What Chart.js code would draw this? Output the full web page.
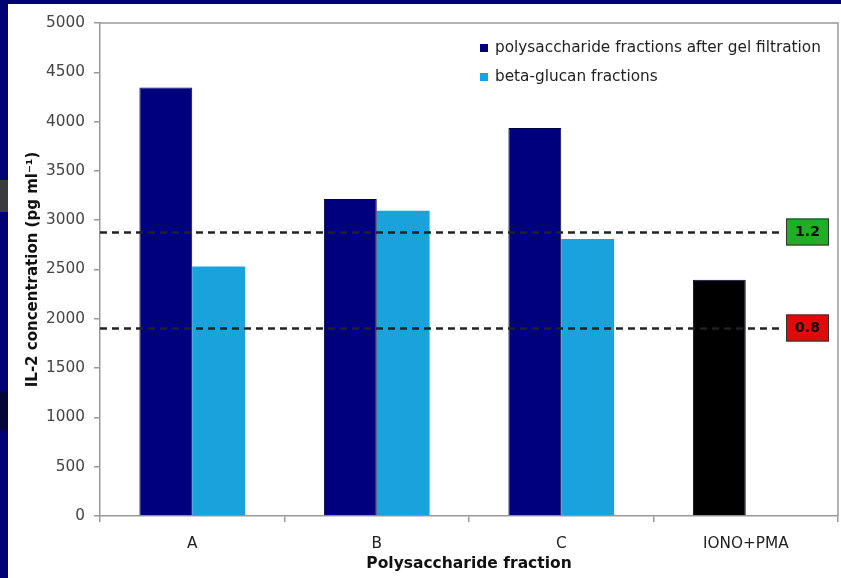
<!DOCTYPE html>
<html>
<head>
<meta charset="utf-8">
<script src="https://cdn.jsdelivr.net/npm/chart.js@4.4.1/dist/chart.umd.min.js"></script>
<style>
    html, body { margin: 0; padding: 0; }
    body { width: 841px; height: 578px; background: #020272; position: relative; overflow: hidden; }
    #panel { position: absolute; left: 8px; top: 4px; width: 833px; height: 574px; background: #fff; }
    .patch1 { position: absolute; left: 0; top: 180px; width: 8px; height: 32px; background: #3a3a40; }
    .patch2 { position: absolute; left: 0; top: 392px; width: 8px; height: 38px; background: #05053a; }
</style>
</head>
<body>
<div class="patch1"></div>
<div class="patch2"></div>
<div id="panel"><canvas id="grafico" width="833" height="574"></canvas></div>
<script>
const categorias = ['A', 'B', 'C', 'IONO+PMA'];
const gelFiltration = [4345, 3215, 3935, 2395];
const betaGlucan = [2530, 3095, 2810, null];
const gelColors = ['#00007e', '#00007e', '#00007e', '#000000'];
const yTicks = [0, 500, 1000, 1500, 2000, 2500, 3000, 3500, 4000, 4500, 5000];
const umbrales = [2880, 1910];
const umbralEtiquetas = ['1.2', '0.8'];
const umbralColores = ['#1fae24', '#e00a0a'];

const ctx = document.getElementById('grafico').getContext('2d');
const fuente = '"DejaVu Sans", Verdana, sans-serif';

// leyenda dentro del area del grafico
const leyendaPlugin = {
    id: 'leyendaInterna',
    afterDraw(chart) {
        const c = chart.ctx;
        const filas = [
            { texto: chart.data.datasets[0].label, color: '#00007e' },
            { texto: chart.data.datasets[1].label, color: '#19a2dc' }
        ];
        c.save();
        c.font = '15.3px ' + fuente;
        c.textBaseline = 'middle';
        filas.forEach((f, i) => {
            const y = 44 + i * 29;
            c.fillStyle = f.color;
            c.fillRect(472, y - 4, 8, 8);
            c.fillStyle = '#222';
            c.fillText(f.texto, 487, y);
        });
        c.restore();
    }
};

// lineas punteadas y cajas de referencia
const umbralPlugin = {
    id: 'umbrales',
    afterDatasetsDraw(chart) {
        const c = chart.ctx;
        const area = chart.chartArea;
        const y = chart.scales.y;
        c.save();
        umbrales.forEach((v, i) => {
            const py = Math.round(y.getPixelForValue(v)) + 0.5;
            c.beginPath();
            c.setLineDash([7, 5]);
            c.lineWidth = 2.5;
            c.strokeStyle = '#222';
            c.moveTo(area.left, py);
            c.lineTo(area.right - 57, py);
            c.stroke();
            c.setLineDash([]);
            const bx = area.right - 52;
            c.fillStyle = umbralColores[i];
            c.fillRect(bx, py - 14, 43, 27);
            c.lineWidth = 1;
            c.strokeStyle = '#333';
            c.strokeRect(bx + 0.5, py - 13.5, 42, 26);
            c.fillStyle = '#111';
            c.font = 'bold 14px ' + fuente;
            c.textAlign = 'center';
            c.textBaseline = 'middle';
            c.fillText(umbralEtiquetas[i], bx + 21.5, py);
        });
        c.restore();
    }
};

// borde superior y derecho del area
const bordePlugin = {
    id: 'borde',
    beforeDatasetsDraw(chart) {
        const c = chart.ctx;
        const a = chart.chartArea;
        c.save();
        c.strokeStyle = '#999';
        c.lineWidth = 1.5;
        c.beginPath();
        c.moveTo(a.left, a.top);
        c.lineTo(a.right, a.top);
        c.lineTo(a.right, a.bottom);
        c.stroke();
        c.restore();
    }
};

const myChart = new Chart(ctx, {
    type: 'bar',
    data: {
        labels: categorias,
        datasets: [{
            label: 'polysaccharide fractions after gel filtration',
            data: gelFiltration,
            backgroundColor: gelColors,
            borderColor: '#00004a',
            borderWidth: 1
        }, {
            label: 'beta-glucan fractions',
            data: betaGlucan,
            backgroundColor: '#19a2dc',
            borderWidth: 0
        }]
    },
    options: {
        responsive: false,
        animation: false,
        layout: { padding: { left: 0, top: 19, right: 3, bottom: 0 } },
        datasets: {
            bar: { categoryPercentage: 0.573, barPercentage: 1 }
        },
        scales: {
            x: {
                afterFit(scale) { scale.height = 62; },
                grid: { drawOnChartArea: false, offset: true, tickLength: 6, color: '#999', lineWidth: 1.5 },
                border: { color: '#999', width: 1.5 },
                ticks: { color: '#222', padding: 13, font: { family: fuente, size: 15.3 } },
                title: {
                    display: true,
                    text: 'Polysaccharide fraction',
                    color: '#111',
                    padding: { top: 0, bottom: 5 },
                    font: { family: fuente, size: 15.5, weight: 'bold' }
                }
            },
            y: {
                min: 0,
                max: 5000,
                afterFit(scale) { scale.width = 92; },
                afterBuildTicks(scale) { scale.ticks = yTicks.map(v => ({ value: v })); },
                grid: { drawOnChartArea: false, tickLength: 6, color: '#999', lineWidth: 1.5 },
                border: { color: '#999', width: 1.5 },
                ticks: {
                    color: '#444',
                    padding: 9,
                    font: { family: fuente, size: 15.3 },
                    callback: v => String(v)
                },
                title: {
                    display: true,
                    text: 'IL-2 concentration (pg ml⁻¹)',
                    color: '#111',
                    padding: { top: 16, bottom: 0 },
                    font: { family: fuente, size: 15, weight: 'bold' }
                }
            }
        },
        plugins: {
            legend: { display: false },
            tooltip: { enabled: false }
        }
    },
    plugins: [bordePlugin, umbralPlugin, leyendaPlugin]
});
</script>
</body>
</html>
